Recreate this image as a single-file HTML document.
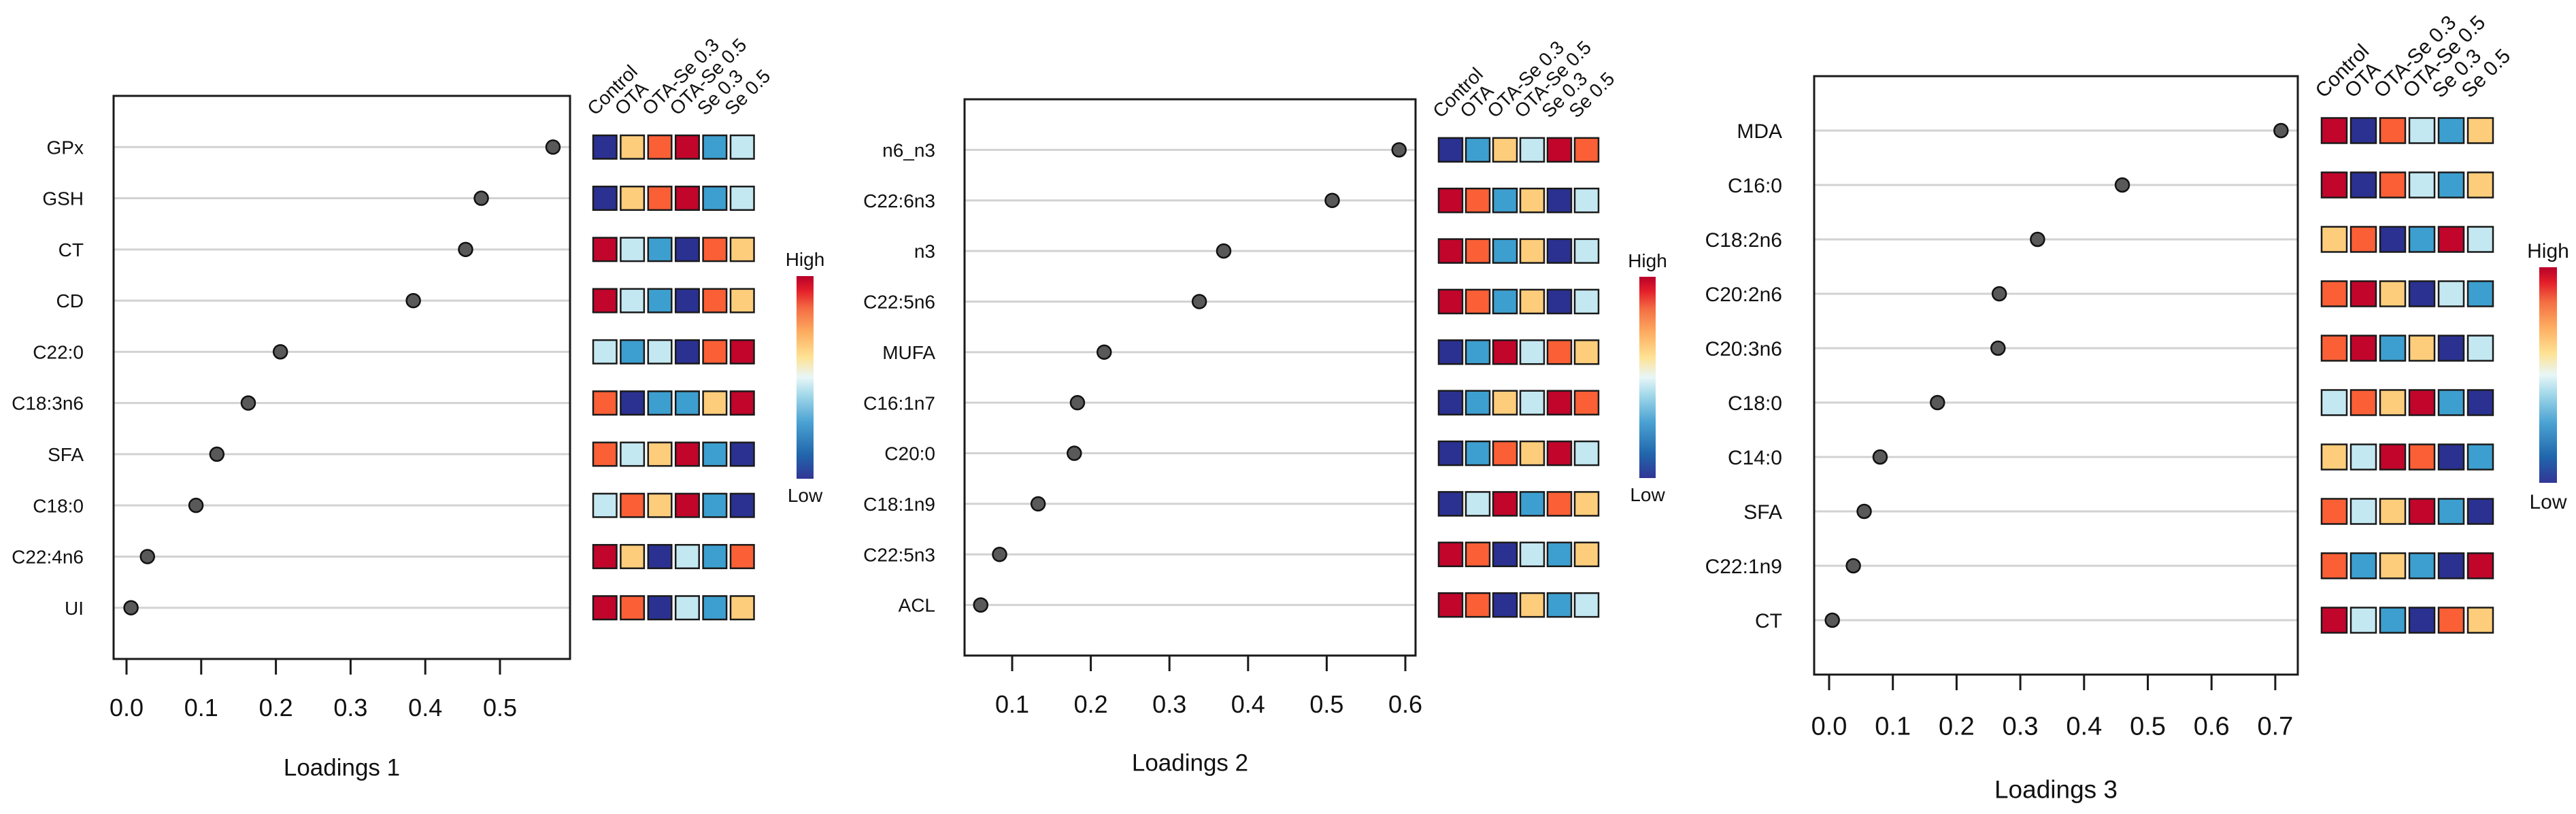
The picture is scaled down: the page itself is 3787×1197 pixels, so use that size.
<!DOCTYPE html>
<html><head><meta charset="utf-8">
<style>
html,body{margin:0;padding:0;background:#fff;}
svg{display:block;font-family:"Liberation Sans",Arial,sans-serif;}
</style></head>
<body>
<svg id="chart" width="3787" height="1197" viewBox="0 0 3787 1197" xmlns="http://www.w3.org/2000/svg">
<defs>
<linearGradient id="rdylbu" x1="0" y1="1" x2="0" y2="0">
<stop offset="0" stop-color="#313695"/>
<stop offset="0.12" stop-color="#2166ac"/>
<stop offset="0.28" stop-color="#4ba3d3"/>
<stop offset="0.42" stop-color="#a8dbeb"/>
<stop offset="0.5" stop-color="#e8f6f8"/>
<stop offset="0.6" stop-color="#fee294"/>
<stop offset="0.72" stop-color="#fdae61"/>
<stop offset="0.84" stop-color="#f46d43"/>
<stop offset="0.93" stop-color="#e31e2a"/>
<stop offset="1" stop-color="#b8002a"/>
</linearGradient>
</defs>
</svg>
<script>
// ---- data ----
const groups = ["Control","OTA","OTA-Se 0.3","OTA-Se 0.5","Se 0.3","Se 0.5"];
const labels1 = ["GPx","GSH","CT","CD","C22:0","C18:3n6","SFA","C18:0","C22:4n6","UI"];
const values1 = [0.571,0.475,0.454,0.384,0.206,0.163,0.121,0.093,0.028,0.006];
const heat1 = [[1,4,5,6,2,3],[1,4,5,6,2,3],[6,3,2,1,5,4],[6,3,2,1,5,4],[3,2,3,1,5,6],[5,1,2,2,4,6],[5,3,4,6,2,1],[3,5,4,6,2,1],[6,4,1,3,2,5],[6,5,1,3,2,4]];
const ticks1 = [0.0,0.1,0.2,0.3,0.4,0.5];
const tickLabels1 = ["0.0","0.1","0.2","0.3","0.4","0.5"];

const labels2 = ["n6_n3","C22:6n3","n3","C22:5n6","MUFA","C16:1n7","C20:0","C18:1n9","C22:5n3","ACL"];
const values2 = [0.592,0.507,0.369,0.338,0.217,0.183,0.179,0.133,0.084,0.060];
const heat2 = [[1,2,4,3,6,5],[6,5,2,4,1,3],[6,5,2,4,1,3],[6,5,2,4,1,3],[1,2,6,3,5,4],[1,2,4,3,6,5],[1,2,5,4,6,3],[1,3,6,2,5,4],[6,5,1,3,2,4],[6,5,1,4,2,3]];
const ticks2 = [0.1,0.2,0.3,0.4,0.5,0.6];
const tickLabels2 = ["0.1","0.2","0.3","0.4","0.5","0.6"];

const labels3 = ["MDA","C16:0","C18:2n6","C20:2n6","C20:3n6","C18:0","C14:0","SFA","C22:1n9","CT"];
const values3 = [0.709,0.460,0.327,0.267,0.265,0.170,0.080,0.055,0.038,0.005];
const heat3 = [[6,1,5,3,2,4],[6,1,5,3,2,4],[4,5,1,2,6,3],[5,6,4,1,3,2],[5,6,2,4,1,3],[3,5,4,6,2,1],[4,3,6,5,1,2],[5,3,4,6,2,1],[5,2,4,2,1,6],[6,3,2,1,5,4]];
const ticks3 = [0.0,0.1,0.2,0.3,0.4,0.5,0.6,0.7];
const tickLabels3 = ["0.0","0.1","0.2","0.3","0.4","0.5","0.6","0.7"];

const heatColors = ["#2b3191","#3d9fcf","#c4e8f2","#fdcd7b","#fb5f36","#c1052b"];

// ---- layout ----
const panels = [
 {id:1,labels:labels1,values:values1,heat:heat1,ticks:ticks1,tickLabels:tickLabels1,title:"Loadings 1",
  left:167,right:838,top:141,bottom:969,x0:186,pxPer:1098,v0:0,
  heatLeft:872,heatStep:40.4,heatSize:34.5,cbL:1171,cbR:1196,cbT:406,cbB:704,highY:381,lowY:728,
  fsLab:28,fsTick:36,fsTitle:35,tickY:1040,titleY:1128,labOff:44},
 {id:2,labels:labels2,values:values2,heat:heat2,ticks:ticks2,tickLabels:tickLabels2,title:"Loadings 2",
  left:1418,right:2081,top:146,bottom:964,x0:1488,pxPer:1156,v0:0.1,
  heatLeft:2115,heatStep:40,heatSize:35,cbL:2410,cbR:2434,cbT:407,cbB:703,highY:383,lowY:727,
  fsLab:28,fsTick:36,fsTitle:35,tickY:1035,titleY:1121,labOff:43},
 {id:3,labels:labels3,values:values3,heat:heat3,ticks:ticks3,tickLabels:tickLabels3,title:"Loadings 3",
  left:2667,right:3378,top:112,bottom:992,x0:2689,pxPer:937,v0:0,
  heatLeft:3413,heatStep:43,heatSize:37,cbL:3733,cbR:3759,cbT:393,cbB:710,highY:368,lowY:737,
  fsLab:30,fsTick:38,fsTitle:37,tickY:1067,titleY:1160,labOff:47}
];

const NS="http://www.w3.org/2000/svg";
const svg=document.getElementById('chart');
function mk(tag,attrs,parent){const e=document.createElementNS(NS,tag);for(const k in attrs)e.setAttribute(k,attrs[k]);(parent||svg).appendChild(e);return e;}

panels.forEach(p=>{
  const g=mk('g',{});
  
  
  const n=p.labels.length;
  const step=(p.bottom-p.top)/(n+1);
  const yScale=i=>p.top+step*(i+1);
  const xScale=v=>p.x0+(v-p.v0)*p.pxPer;

  // grid lines, labels, dots
  p.labels.forEach((lab,i)=>{
    const y=yScale(i);
    const ln=mk('line',{x1:p.left,x2:p.right,y1:y,y2:y,stroke:'#d2d2d2','stroke-width':3},g);
    
    
    const t=mk('text',{x:p.left-p.labOff,y:y+p.fsLab*0.36,'text-anchor':'end','font-size':p.fsLab,fill:'#111'},g);
    t.textContent=lab;
    
    
  });
  // box
  const box=mk('rect',{x:p.left,y:p.top,width:p.right-p.left,height:p.bottom-p.top,fill:'none',stroke:'#1a1a1a','stroke-width':3},g);
  
  
  p.values.forEach((v,i)=>{
    const c=mk('circle',{cx:xScale(v),cy:yScale(i),r:10,fill:'#595959',stroke:'#111','stroke-width':2.5},g);
    
    
  });
  // ticks
  p.ticks.forEach((tv,k)=>{
    const x=xScale(tv);
    const tm=mk('line',{x1:x,x2:x,y1:p.bottom,y2:p.bottom+23,stroke:'#1a1a1a','stroke-width':3},g);
    
    
    const tl=mk('text',{x:x,y:p.tickY+p.fsTick*0.36,'text-anchor':'middle','font-size':p.fsTick,fill:'#111'},g);
    tl.textContent=p.tickLabels[k];
    
    
  });
  const ti=mk('text',{x:(p.left+p.right)/2,y:p.titleY+p.fsTitle*0.36,'text-anchor':'middle','font-size':p.fsTitle,fill:'#111'},g);
  ti.textContent=p.title;
  
  

  // heatmap
  p.heat.forEach((row,i)=>{
    const yc=yScale(i);
    row.forEach((code,j)=>{
      const r=mk('rect',{x:p.heatLeft+j*p.heatStep,y:yc-p.heatSize/2,width:p.heatSize,height:p.heatSize,fill:heatColors[code-1],stroke:'#1a1a1a','stroke-width':2.5},g);
      
      
    });
  });
  // column labels
  groups.forEach((gn,j)=>{
    const x=p.heatLeft+j*p.heatStep+3;
    const y=yScale(0)-p.heatSize/2-28;
    const t=mk('text',{x:x,y:y,'font-size':p.fsLab,fill:'#111',transform:`rotate(-45 ${x} ${y})`},g);
    t.textContent=gn;
    
    
  });
  // colorbar
  const cb=mk('rect',{x:p.cbL,y:p.cbT,width:p.cbR-p.cbL,height:p.cbB-p.cbT,fill:'url(#rdylbu)'},g);
  
  
  const cx=(p.cbL+p.cbR)/2;
  const hi=mk('text',{x:cx,y:p.highY+p.fsLab*0.36,'text-anchor':'middle','font-size':p.fsLab,fill:'#111'},g);
  hi.textContent="High";
  
  
  const lo=mk('text',{x:cx,y:p.lowY+p.fsLab*0.36,'text-anchor':'middle','font-size':p.fsLab,fill:'#111'},g);
  lo.textContent="Low";
  
  
});
</script>
</body></html>
